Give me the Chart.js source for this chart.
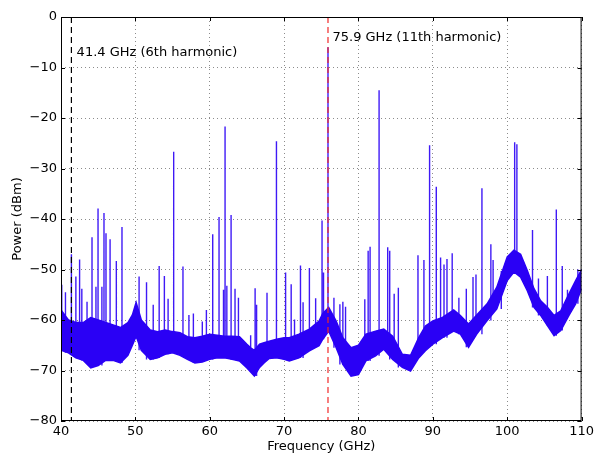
<!DOCTYPE html>
<html>
<head>
<meta charset="UTF-8"/>
<title>Spectrum</title>
<script src="https://cdn.jsdelivr.net/npm/chart.js@4.4.1/dist/chart.umd.min.js"></script>
<style>
body{margin:0;background:#fff;}
</style>
</head>
<body>
<canvas id="chart" width="597" height="455"></canvas>
<script>
// noise floor envelope (GHz, dBm)
const floorFreq = [40, 41, 42, 43, 44, 45, 46, 47, 48, 49, 49.6, 50.1, 50.8,
    52, 53, 54, 55, 56, 57, 58, 59, 60, 61, 62, 63, 64, 65,
    65.5, 66, 66.7, 67.3, 68, 69, 70, 70.7,
    72, 73.4, 74.7, 75.2, 76, 77, 77.9, 79, 80, 81,
    82.3, 83.4, 84.6, 85.9, 87, 88.1, 89, 90, 91.3,
    92.8, 93.7, 94.8, 95.9, 97.3, 98.6,
    100, 100.9, 101.8, 102.7, 103.6, 104.5, 105.4, 106.3, 107.2, 108.3, 109.2, 110];
const floorTop = [-58, -60, -60.5, -60.5, -59.5, -60, -60.5, -61, -61.5, -60.5, -59, -56.5, -60,
    -62, -62.3, -62, -62.3, -62.5, -63.3, -63.5, -63.2, -62.8, -63, -63.2, -63.2, -63.3, -64.8,
    -65.5, -66, -64.8, -64.5, -64.2, -63.8, -63.5, -63.5,
    -62.8, -61.8, -60.2, -58.7, -57.5, -60.2, -63.5, -65.5, -65, -62.8,
    -62.2, -61.8, -63.2, -66.8, -67, -63.5, -61.2, -60.2, -59.5,
    -58, -59.1, -60.8, -59, -56.8, -53.5,
    -47.5, -46.2, -47, -50.2, -53.8, -56.2, -57.5, -59.1, -58.2, -54.8, -52.2, -50];
const floorBottom = [-66, -66.5, -67.5, -68, -69.5, -69, -68, -68, -68.5, -67, -65, -63.2, -66,
    -67.8, -67.5, -66.8, -66.5, -67, -67.8, -68.5, -68.3, -67.8, -67.5, -67.5, -67.8, -68.1, -69.5,
    -70.3, -71.1, -69.4, -68.5, -67.6, -67.5, -67.8, -68.1,
    -67.5, -66.1, -65.1, -63.8, -62.2, -65.5, -68.8, -71.1, -70.8, -68.1,
    -67.1, -65.8, -67.8, -69.4, -70.1, -67.5, -66.1, -64.8, -63.5,
    -62.2, -62.8, -65.4, -62.8, -60.1, -57.8,
    -52.2, -50.5, -51.5, -54.2, -57.5, -59.1, -61.1, -63.1, -62.1, -59.1, -56.8, -53.8];

// spurious tones (GHz, peak dBm)
const spikeFreq = [40.1, 40.6, 41.4, 42.0, 42.5, 42.8, 43.5, 44.17, 44.7, 44.98, 45.5, 45.78, 46.05, 46.6,
    47.44, 48.2, 50.5, 51.5, 52.4, 53.2, 53.9, 54.4, 55.15, 56.4, 57.2, 57.8, 59.0, 59.55,
    60.4, 61.25, 61.85, 62.06, 62.3, 62.87, 63.4, 63.86, 65.5, 66.1, 66.3, 67.7, 68.97,
    70.2, 70.95, 71.4, 72.2, 72.55, 73.4, 74.24, 75.1, 75.3, 75.9, 76.7, 77.5, 77.9, 78.26,
    80.85, 81.3, 81.56, 82.77, 83.93, 84.2, 84.8, 85.36, 88.0, 88.8, 89.56, 90.46, 91.04,
    91.5, 91.9, 92.6, 93.5, 94.5, 95.4, 95.8, 96.6, 97.8, 98.1, 99.2, 101.0, 101.3,
    103.4, 104.2, 105.4, 106.6, 107.4, 108.1, 109.5];
const spikePeak = [-53, -54.5, -47, -51.4, -48, -53.8, -56.4, -43.6, -53.4, -37.9, -53.4, -38.8, -42.8, -44,
    -48.3, -41.6, -51.4, -52.5, -57, -49.3, -51.3, -55.8, -26.7, -49.4, -59, -58.7, -60.3, -58,
    -43, -39.6, -54, -21.7, -53.2, -39.2, -53.8, -55.6, -63, -53.7, -57, -54.6, -24.6,
    -50.6, -52.9, -59.9, -49.2, -56.5, -49.7, -55.7, -40.3, -50.6, -6, -55.6, -56.9, -56.4, -57.4,
    -55.9, -46.3, -45.5, -14.5, -45.6, -46.3, -54.8, -53.6, -47.2, -48.1, -25.4, -33.6, -47.6,
    -49, -47.9, -46.8, -55.6, -53.8, -51.5, -51, -33.9, -45, -48.1, -50.3, -24.8, -25.2,
    -42.2, -51.8, -51.3, -38.1, -49.3, -54, -50];

const markerFreq = [41.4, 75.9];
const markerText = ['41.4 GHz (6th harmonic)', '75.9 GHz (11th harmonic)'];
const xTicks = [40, 50, 60, 70, 80, 90, 100, 110];
const yTicks = [0, -10, -20, -30, -40, -50, -60, -70, -80];

const BLUE = 'rgb(42,0,245)';
const FONT = {family: 'DejaVu Sans', size: 13};

function bottomNear(f) {
    let best = 0;
    floorFreq.forEach((v, i) => { if (Math.abs(v - f) < Math.abs(floorFreq[best] - f)) best = i; });
    return floorBottom[best];
}

const spikePts = [];
spikeFreq.forEach((f, i) => {
    spikePts.push({x: f, y: bottomNear(f)}, {x: f, y: spikePeak[i]}, {x: f, y: null});
});

const fmt = v => v < 0 ? '\u2212' + Math.abs(v) : String(v);

const frame = {
    id: 'frame',
    afterDatasetsDraw(chart) {
        const {ctx, chartArea: a, scales: {x, y}} = chart;
        ctx.save();
        ctx.setLineDash([]);
        ctx.strokeStyle = 'black';
        ctx.lineWidth = 1;
        ctx.strokeRect(a.left + 0.5, a.top + 0.5, a.right - a.left - 1, a.bottom - a.top - 1);
        ctx.beginPath();
        xTicks.forEach(t => {
            const px = Math.round(x.getPixelForValue(t)) + 0.5;
            ctx.moveTo(px, a.bottom); ctx.lineTo(px, a.bottom - 4);
            ctx.moveTo(px, a.top); ctx.lineTo(px, a.top + 4);
        });
        yTicks.forEach(t => {
            const py = Math.round(y.getPixelForValue(t)) + 0.5;
            ctx.moveTo(a.left, py); ctx.lineTo(a.left + 4, py);
            ctx.moveTo(a.right, py); ctx.lineTo(a.right - 4, py);
        });
        ctx.stroke();
        // harmonic labels
        ctx.fillStyle = 'black';
        ctx.font = '13px "DejaVu Sans"';
        ctx.textBaseline = 'middle';
        ctx.textAlign = 'left';
        ctx.fillText(markerText[0], x.getPixelForValue(markerFreq[0] + 0.7), y.getPixelForValue(-7.1));
        ctx.fillText(markerText[1], x.getPixelForValue(markerFreq[1] + 0.6), y.getPixelForValue(-4));
        ctx.restore();
    }
};

new Chart(document.getElementById('chart').getContext('2d'), {
    type: 'line',
    data: {
        datasets: [
            {
                data: spikePts, borderColor: 'rgba(42,0,245,0.9)', borderWidth: 1.4,
                pointRadius: 0, spanGaps: false, order: 3
            },
            {
                data: floorFreq.map((f, i) => ({x: f, y: floorTop[i]})),
                borderColor: BLUE, backgroundColor: BLUE, borderWidth: 1.5,
                pointRadius: 0, fill: '+1', order: 2
            },
            {
                data: floorFreq.map((f, i) => ({x: f, y: floorBottom[i]})),
                borderColor: BLUE, borderWidth: 1.5, pointRadius: 0, fill: false, order: 2
            },
            {
                data: [{x: markerFreq[0], y: 0}, {x: markerFreq[0], y: -80}],
                borderColor: 'black', borderWidth: 1.2, borderDash: [6, 4],
                pointRadius: 0, order: 1
            },
            {
                data: [{x: markerFreq[1], y: 0}, {x: markerFreq[1], y: -80}],
                borderColor: 'rgba(240,40,40,0.8)', borderWidth: 1.5, borderDash: [6, 4],
                pointRadius: 0, order: 1
            }
        ]
    },
    options: {
        responsive: false,
        animation: false,
        layout: {padding: {top: 17, right: 14, left: 0, bottom: 0}},
        plugins: {legend: {display: false}, tooltip: {enabled: false}},
        scales: {
            x: {
                type: 'linear', min: 40, max: 110,
                afterBuildTicks: s => { s.ticks = xTicks.map(v => ({value: v})); },
                afterFit: s => { s.height = 34; },
                ticks: {font: FONT, color: 'black', padding: 3, maxRotation: 0, callback: fmt},
                grid: {color: 'rgba(0,0,0,0.45)', drawTicks: false},
                border: {display: false, dash: [1, 3]},
                title: {display: true, text: 'Frequency (GHz)', font: FONT, color: 'black', padding: {top: 0, bottom: 1}}
            },
            y: {
                type: 'linear', min: -80, max: 0,
                afterBuildTicks: s => { s.ticks = yTicks.map(v => ({value: v})); },
                afterFit: s => { s.width = 61; },
                ticks: {font: FONT, color: 'black', padding: 4, callback: fmt},
                grid: {color: 'rgba(0,0,0,0.45)', drawTicks: false},
                border: {display: false, dash: [1, 3]},
                title: {display: true, text: 'Power (dBm)', font: FONT, color: 'black', padding: {top: 10, bottom: 0}}
            }
        }
    },
    plugins: [frame]
});
</script>
</body>
</html>
